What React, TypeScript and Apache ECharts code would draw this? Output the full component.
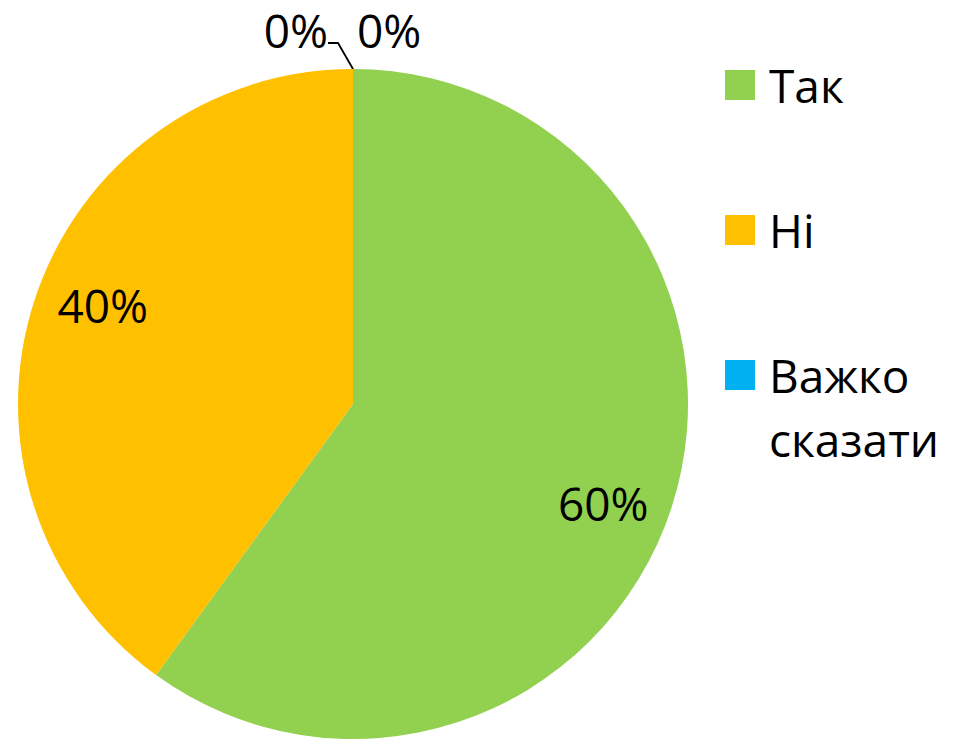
import React, { useEffect, useRef } from "react";
import * as echarts from "echarts";

const categories = ["Так", "Ні", "Важко сказати", ""];
const values = [60, 40, 0, 0];
const colors = ["#92D050", "#FFC000", "#00B0F0", "#A5A5A5"];
const legendNames = ["Так", "Ні", "Важко сказати"];

const FONT = "'Open Sans', 'Noto Sans', sans-serif";

export default function App() {
  const ref = useRef<HTMLDivElement>(null);

  useEffect(() => {
    if (!ref.current) return;
    const chart = echarts.init(ref.current, undefined, { renderer: "svg" });

    const pct = (p: any) => Math.round(p.percent) + "%";

    const mainData = categories.map((name, i) => ({
      name,
      value: values[i],
      itemStyle: { color: colors[i] },
      label:
        values[i] === 0
          ? {
              show: true,
              position: "outside",
              padding: i === 2 ? [0, 8, 0, 0] : 0,
              formatter:
                i === 2
                  ? (p: any) => "{a|" + pct(p) + "}\n{b| }"
                  : (p: any) => "{a|" + pct(p) + "}",
            }
          : { show: false },
      labelLine:
        values[i] === 0 && i === 2
          ? { show: true, length: 26, length2: 10 }
          : { show: false },
    }));

    const overlayData = categories.map((name, i) => ({
      name,
      value: values[i],
      itemStyle: { color: "rgba(0,0,0,0)" },
      label: { show: values[i] !== 0 },
    }));

    const legendTops = [53, 198, 279];

    chart.setOption({
      animation: false,
      backgroundColor: "#ffffff",
      legend: legendNames.map((n, i) => ({
        data: [{ name: n, icon: "rect" }],
        orient: "vertical",
        left: 725,
        top: legendTops[i],
        padding: 0,
        itemWidth: 30,
        itemHeight: 30,
        selectedMode: false,
        formatter: (name: string) =>
          name.indexOf(" ") >= 0 ? " \n" + name.replace(" ", "\n") : name,
        textStyle: {
          fontFamily: FONT,
          fontSize: 46,
          color: "#000",
          lineHeight: 64,
          padding: [0, 0, 0, 9],
        },
      })),
      series: [
        {
          type: "pie",
          name: "main",
          center: [353, 404],
          radius: 335,
          startAngle: 90,
          clockwise: true,
          avoidLabelOverlap: false,
          silent: true,
          itemStyle: { borderWidth: 0 },
          label: {
            fontFamily: FONT,
            fontSize: 46,
            color: "#000",
            rich: {
              a: { fontFamily: FONT, fontSize: 46, lineHeight: 62, color: "#000" },
              b: { fontSize: 10, lineHeight: 26 },
            },
          },
          labelLine: {
            lineStyle: { color: "#000", width: 1.8 },
          },
          labelLayout: (params: any) =>
            params.dataIndex === 3
              ? { x: 357, y: 30, align: "left", verticalAlign: "middle" }
              : params.dataIndex === 2
              ? { x: 336, y: 43, align: "right", verticalAlign: "middle" }
              : {},
          data: mainData,
        },
        {
          type: "pie",
          name: "labels",
          center: [353, 404],
          radius: [197, 335],
          startAngle: 86.5,
          clockwise: true,
          avoidLabelOverlap: false,
          silent: true,
          itemStyle: { borderWidth: 0 },
          label: {
            position: "inside",
            fontFamily: FONT,
            fontSize: 46,
            color: "#000",
            formatter: pct,
          },
          labelLine: { show: false },
          data: overlayData,
        },
      ],
    });

    return () => chart.dispose();
  }, []);

  return (
    <div
      ref={ref}
      style={{ position: "absolute", left: 0, top: 0, width: 960, height: 739 }}
    />
  );
}
